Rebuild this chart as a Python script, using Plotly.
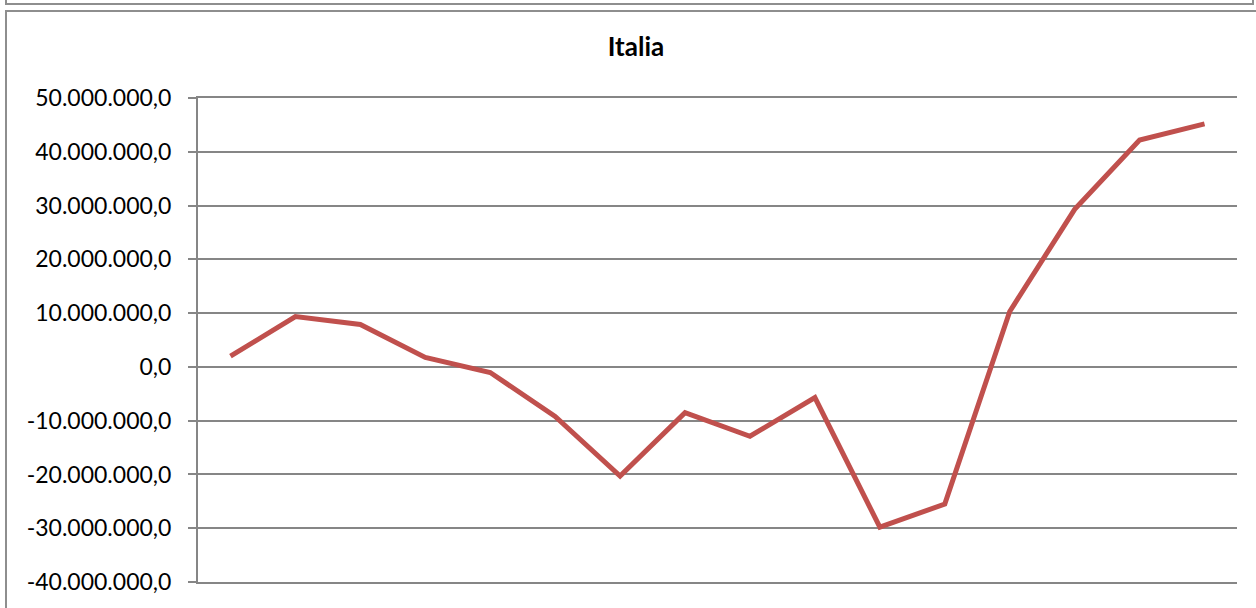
import plotly.graph_objects as go

# Data
categories = [str(i) for i in range(1, 17)]
values = [2.0e6, 9.35e6, 7.9e6, 1.75e6, -1.05e6, -9.2e6, -20.3e6, -8.5e6,
          -12.9e6, -5.7e6, -29.8e6, -25.5e6, 10.3e6, 29.3e6, 42.2e6, 45.2e6]
tick_values = [50e6, 40e6, 30e6, 20e6, 10e6, 0, -10e6, -20e6, -30e6, -40e6]
tick_labels = ["50.000.000,0", "40.000.000,0", "30.000.000,0", "20.000.000,0",
               "10.000.000,0", "0,0", "-10.000.000,0", "-20.000.000,0",
               "-30.000.000,0", "-40.000.000,0"]
title_text = "Italia"

W, H = 1256, 608
L, R, T, B = 198, 1237, 98, 582

def px(x):
    return (x - L) / (R - L)

def py(y):
    return (B - y) / (B - T)

fig = go.Figure()
fig.add_trace(go.Scatter(
    x=categories, y=values, mode="lines",
    line=dict(color="#C0504D", width=5),
    hoverinfo="skip", showlegend=False,
))

frame_color = "#8E8E8E"
grid_color = "#868686"
shapes = [
    # upper (previous) chart frame
    dict(type="rect", xref="paper", yref="paper",
         x0=px(6), x1=px(1253), y0=py(4), y1=py(-20),
         line=dict(color=frame_color, width=2), fillcolor="rgba(0,0,0,0)", layer="above"),
    # this chart's frame
    dict(type="rect", xref="paper", yref="paper",
         x0=px(6), x1=px(1275), y0=py(625), y1=py(11),
         line=dict(color=frame_color, width=2), fillcolor="rgba(0,0,0,0)", layer="above"),
]

font_family = "Lato, 'Open Sans', sans-serif"

fig.update_layout(
    template="none",
    width=W, height=H, autosize=False,
    margin=dict(l=L, r=W - R, t=T, b=H - B, pad=0, autoexpand=False),
    paper_bgcolor="white", plot_bgcolor="white",
    font=dict(family=font_family, color="#000000"),
    title=dict(text="<b>" + title_text + "</b>", x=636 / W, xref="container",
               xanchor="center", y=1 - 47 / H, yref="container", yanchor="middle",
               font=dict(size=26, family=font_family, color="#000")),
    shapes=shapes,
    xaxis=dict(type="category", range=[-0.5, len(categories) - 0.5],
               showticklabels=False, showgrid=False, zeroline=False,
               showline=True, mirror=True, linecolor=grid_color, linewidth=2,
               ticks="", automargin=False),
    yaxis=dict(range=[-40e6, 50e6], tickvals=tick_values, ticktext=tick_labels,
               showgrid=True, gridcolor=grid_color, gridwidth=2,
               zeroline=False, showline=True, linecolor=grid_color, linewidth=2,
               ticks="outside", ticklen=8, tickcolor=grid_color, tickwidth=2,
               ticklabelstandoff=12, automargin=False,
               tickfont=dict(size=23, family=font_family, color="#000")),
)

fig.write_html("out.html")
